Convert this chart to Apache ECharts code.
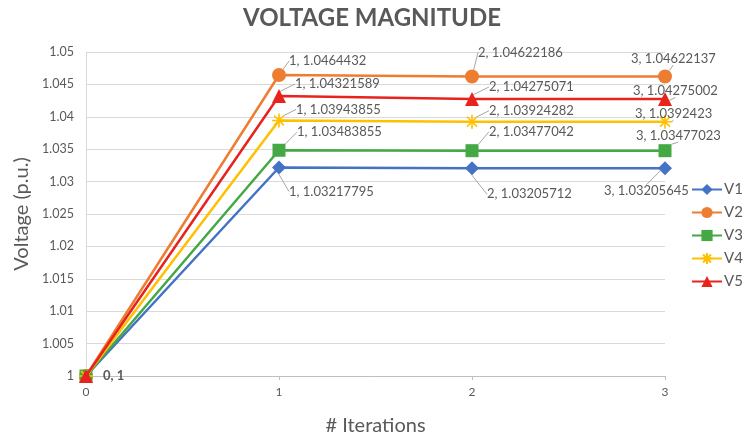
<!DOCTYPE html>
<html><head><meta charset="utf-8">
<script src="https://cdn.jsdelivr.net/npm/echarts@6/dist/echarts.min.js"></script>
<style>html,body{margin:0;padding:0;background:#fff}#c{width:744px;height:441px}</style>
</head><body><div id="c"></div>
<script>
var iterations = [0, 1, 2, 3];
var seriesNames = ['V1', 'V2', 'V3', 'V4', 'V5'];
var V1 = [1, 1.03217795, 1.03205712, 1.03205645];
var V2 = [1, 1.0464432, 1.04622186, 1.04622137];
var V3 = [1, 1.03483855, 1.03477042, 1.03477023];
var V4 = [1, 1.03943855, 1.03924282, 1.0392423];
var V5 = [1, 1.04321589, 1.04275071, 1.04275002];
var values = [V1, V2, V3, V4, V5];

var colors = ['#4472C4', '#ED7D31', '#44A845', '#FFC000', '#E8231E'];
var symbols = ['diamond', 'circle', 'rect',
  'path://M0,6L12,6M6,0L6,12M1.8,1.8L10.2,10.2M10.2,1.8L1.8,10.2', 'triangle'];
var sizes = [14, 14, 13, 14, 14];
// label offsets (text left edge, text middle) relative to the marker centre
var offs = [
  [null, [10, 24], [15, 26], [-61, 23]],
  [null, [10, -14], [6, -24], [-34, -18]],
  [null, [18, -18], [17, -19], [-29, -15]],
  [null, [17, -11], [17, -11], [-30, -8]],
  [[17, 0], [16, -12], [17, -12], [-32, -8]]
];
var FONT = 'Lato';
var GRAY = '#595959';

var series = seriesNames.map(function (n, s) {
  return {
    name: n, type: 'line', symbol: symbols[s], symbolSize: sizes[s],
    data: iterations.map(function (x, i) {
      var d = { value: [x, values[s][i]] };
      if (i === 0) {
        d.label = { show: s === 4, fontWeight: 'bold' };
        d.labelLine = { show: false };
      }
      return d;
    }),
    lineStyle: { color: colors[s], width: 2.5 },
    itemStyle: s === 3 ? { color: colors[s], borderColor: colors[s], borderWidth: 1.6 } : { color: colors[s] },
    label: {
      show: true, fontFamily: FONT, fontSize: 13, color: GRAY,
      formatter: function (p) { return p.value[0] + ', ' + p.value[1]; }
    },
    labelLine: { show: true, lineStyle: { color: '#a6a6a6', width: 1 } },
    labelLayout: function (p) {
      var o = offs[p.seriesIndex][p.dataIndex];
      if (!o) return {};
      var cx = p.rect.x + p.rect.width / 2, cy = p.rect.y + p.rect.height / 2;
      return { x: cx + o[0], y: cy + o[1], align: 'left', verticalAlign: 'middle' };
    },
    z: 2 + s
  };
});

var chart = echarts.init(document.getElementById('c'));
chart.setOption({
  animation: false,
  backgroundColor: '#fff',
  title: {
    text: 'VOLTAGE MAGNITUDE', left: 'center', top: 1,
    textStyle: { fontFamily: FONT, fontSize: 24, fontWeight: 'bold', color: GRAY }
  },
  legend: {
    orient: 'vertical', left: 686, top: 177, itemGap: 8, itemWidth: 30, itemHeight: 14,
    data: seriesNames,
    textStyle: { fontFamily: FONT, fontSize: 15, color: GRAY, padding: [0, 0, 0, -3] }
  },
  grid: { left: 86, right: 79, top: 52, bottom: 62 },
  xAxis: {
    type: 'value', min: 0, max: 3, interval: 1,
    name: '# Iterations', nameLocation: 'middle', nameGap: 40,
    nameTextStyle: { fontFamily: FONT, fontSize: 20, color: GRAY },
    axisLine: { lineStyle: { color: '#bfbfbf', width: 1 } },
    axisTick: { show: true, length: 4, lineStyle: { color: '#bfbfbf' } },
    axisLabel: { fontFamily: FONT, fontSize: 12, color: GRAY, margin: 10 },
    splitLine: { show: false }
  },
  yAxis: {
    type: 'value', min: 1, max: 1.05, interval: 0.005,
    name: 'Voltage (p.u.)', nameLocation: 'middle', nameGap: 52,
    nameTextStyle: { fontFamily: FONT, fontSize: 20, color: GRAY },
    axisLine: { show: true, lineStyle: { color: '#d9d9d9' } },
    axisTick: { show: false },
    axisLabel: { fontFamily: FONT, fontSize: 12.5, color: GRAY, margin: 12,
      formatter: function (v) { return String(+v.toFixed(3)); } },
    splitLine: { lineStyle: { color: '#d9d9d9' } }
  },
  series: series
});
</script></body></html>
